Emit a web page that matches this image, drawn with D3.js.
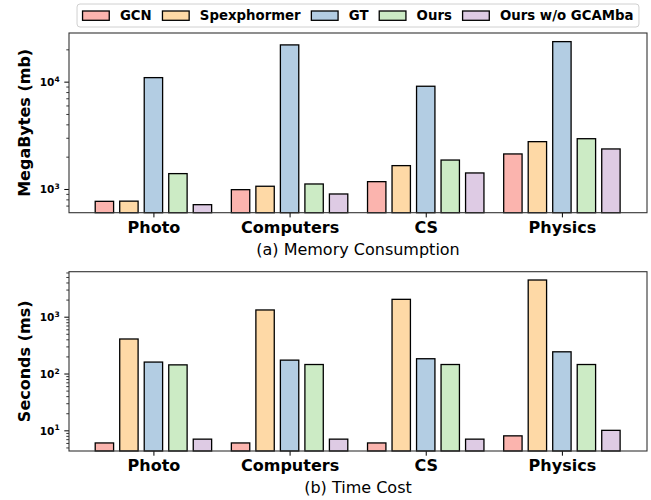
<!DOCTYPE html>
<html>
<head>
<meta charset="utf-8">
<script src="https://cdn.jsdelivr.net/npm/d3@7"></script>
<style>
  body { margin: 0; background: #fff; }
  svg { font-family: "DejaVu Sans", sans-serif; }
</style>
</head>
<body>
<div id="chart"></div>
<script>
const datasets = ["Photo", "Computers", "CS", "Physics"];
const methods = ["GCN", "Spexphormer", "GT", "Ours", "Ours w/o GCAMba"];
const colors = ["#fbb4ae", "#fed9a6", "#b3cde3", "#ccebc5", "#decbe4"];

// memory consumption (mb), one array per method, order = datasets
const memGCN = [767, 985, 1170, 2120];
const memSpex = [770, 1060, 1650, 2760];
const memGT = [10900, 22000, 9060, 23600];
const memOurs = [1390, 1113, 1860, 2940];
const memNoGCAMba = [714, 898, 1410, 2360];

// time cost (ms)
const timeGCN = [6, 6, 6, 8];
const timeSpex = [405, 1313, 2020, 4420];
const timeGT = [159, 172, 182, 241];
const timeOurs = [142, 144, 144, 144];
const timeNoGCAMba = [7, 7, 7, 10];

const memory = [memGCN, memSpex, memGT, memOurs, memNoGCAMba];
const timeCost = [timeGCN, timeSpex, timeGT, timeOurs, timeNoGCAMba];

const width = 651, height = 500;
const left = 69, right = 647;

const svg = d3.select("#chart").append("svg")
  .attr("width", width).attr("height", height);

const x = d3.scaleLinear().domain([-0.62, 3.625]).range([left, right]);
const offset = 0.18, barW = 0.135;

function drawPanel(values, top, bottom, domain, majors, ylabel, title) {
  const y = d3.scaleLog().domain(domain).range([bottom, top]);
  const g = svg.append("g");

  // bars
  values.forEach((series, m) => {
    g.selectAll(null)
      .data(series)
      .enter()
      .append("rect")
      .attr("x", (d, i) => x(i + (m - 2) * offset - barW / 2))
      .attr("width", x(barW) - x(0))
      .attr("y", d => y(d))
      .attr("height", d => bottom - y(d))
      .attr("fill", colors[m])
      .attr("stroke", "#000")
      .attr("stroke-width", 1.3);
  });

  // minor ticks
  const minors = [];
  for (let e = -1; e <= 5; e++) {
    for (let k = 2; k <= 9; k++) {
      const v = k * Math.pow(10, e);
      if (v > domain[0] && v < domain[1]) minors.push(v);
    }
  }
  const minorAxis = d3.axisLeft(y).tickValues(minors).tickSize(2.7).tickFormat("");
  g.append("g").attr("transform", `translate(${left},0)`).call(minorAxis)
    .call(s => s.select(".domain").remove())
    .call(s => s.selectAll("line").attr("stroke", "#000").attr("stroke-width", 0.8));

  // major ticks
  const majorAxis = d3.axisLeft(y).tickValues(majors).tickSize(4.7).tickPadding(4.7).tickFormat("");
  const ya = g.append("g").attr("transform", `translate(${left},0)`).call(majorAxis);
  ya.select(".domain").remove();
  ya.selectAll("line").attr("stroke", "#000").attr("stroke-width", 1);
  ya.selectAll(".tick text")
    .attr("font-size", 10.5).attr("font-weight", "bold").attr("fill", "#000")
    .attr("font-family", "DejaVu Sans")
    .attr("dy", "0.35em")
    .each(function(d) {
      const t = d3.select(this);
      t.append("tspan").text("10");
      t.append("tspan").text(Math.round(Math.log10(d)))
        .attr("font-size", 7.5).attr("dy", "-0.55em");
    });

  // x axis
  const xAxis = d3.axisBottom(x).tickValues([0, 1, 2, 3])
    .tickFormat(i => datasets[i]).tickSize(4.7).tickPadding(4);
  const xa = g.append("g").attr("transform", `translate(0,${bottom})`).call(xAxis);
  xa.select(".domain").remove();
  xa.selectAll("line").attr("stroke", "#000").attr("stroke-width", 1);
  xa.selectAll("text").attr("font-size", 16).attr("font-weight", "bold")
    .attr("fill", "#000").attr("font-family", "DejaVu Sans");

  // frame
  g.append("rect")
    .attr("x", left).attr("y", top)
    .attr("width", right - left).attr("height", bottom - top)
    .attr("fill", "none").attr("stroke", "#333").attr("stroke-width", 1.1);

  // y label
  g.append("text")
    .attr("transform", `translate(29.5,${(top + bottom) / 2}) rotate(-90)`)
    .attr("text-anchor", "middle")
    .attr("font-size", 16).attr("font-weight", "bold")
    .text(ylabel);

  // subtitle
  g.append("text")
    .attr("x", (left + right) / 2).attr("y", bottom + 42)
    .attr("text-anchor", "middle")
    .attr("font-size", 16)
    .text(title);
}

drawPanel(memory, 33, 212.7, [601, 28400], [1000, 10000], "MegaBytes (mb)", "(a) Memory Consumption");
drawPanel(timeCost, 271.7, 451, [4.33, 6190], [10, 100, 1000], "Seconds (ms)", "(b) Time Cost");

// legend
const fs = 13.3;
const leg = svg.append("g");
const box = leg.append("rect");
let cx = 0;
const items = [];
methods.forEach((name, m) => {
  const it = leg.append("g");
  it.append("rect")
    .attr("x", cx).attr("y", -4.5).attr("width", 26.7).attr("height", 9.3)
    .attr("fill", colors[m]).attr("stroke", "#000").attr("stroke-width", 1.3);
  const t = it.append("text")
    .attr("x", cx + 26.7 + 10.7).attr("y", 4.7)
    .attr("font-size", fs).attr("font-weight", "bold")
    .text(name);
  cx += 26.7 + 10.7 + t.node().getComputedTextLength() + 10.7;
  items.push(it);
});
const legW = cx - 10.7;
const legX = (left + right) / 2 - legW / 2;
leg.attr("transform", `translate(${legX},15.5)`);
box.attr("x", -5.5).attr("y", -11.5).attr("width", legW + 11).attr("height", 23)
  .attr("rx", 3).attr("fill", "#fff").attr("stroke", "#d0d0d0").attr("stroke-width", 1);
</script>
</body>
</html>
